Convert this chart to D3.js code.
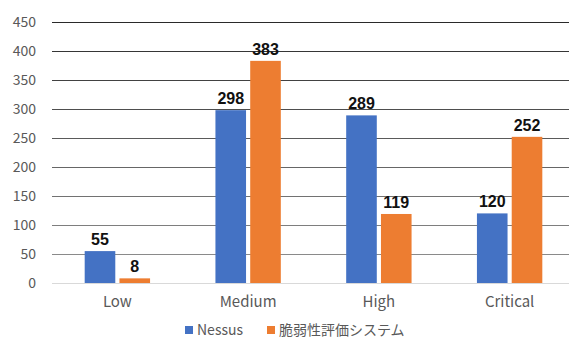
<!DOCTYPE html>
<html>
<head>
<meta charset="utf-8">
<script src="https://cdn.jsdelivr.net/npm/d3@7"></script>
<style>
  html, body { margin: 0; padding: 0; background: #fff; overflow: hidden; }
  svg { display: block; }
</style>
</head>
<body>
<svg id="chart" width="569" height="340"></svg>
<script>
// Vulnerability counts by severity, per scanning tool
const categories = ["Low", "Medium", "High", "Critical"];
const seriesNames = ["Nessus", "脆弱性評価システム"];
const nessusValues = [55, 298, 289, 120];
const systemValues = [8, 383, 119, 252];
const yTicks = [0, 50, 100, 150, 200, 250, 300, 350, 400, 450];
const seriesColors = ["#4472C4", "#ED7D31"];

const svg = d3.select("#chart");
const plotLeft = 52, plotRight = 575, plotTop = 22, plotBottom = 283;
const labelFont = "'Noto Sans CJK JP', 'Liberation Sans', sans-serif";

const x0 = d3.scaleBand().domain(categories).range([plotLeft, plotRight])
  .paddingInner(0.5).paddingOuter(0.25);
const x1 = d3.scaleBand().domain(seriesNames).range([0, x0.bandwidth()])
  .paddingInner(0.12);
const y = d3.scaleLinear().domain([0, 450]).range([plotBottom, plotTop]);

const gridColor = d3.scaleLinear().domain([450, 50]).range(["#2a2a2a", "#8a8a8a"]);

// gridlines
svg.append("g").selectAll("line")
  .data(yTicks.filter(d => d > 0))
  .join("line")
  .attr("x1", plotLeft).attr("x2", plotRight)
  .attr("y1", d => y(d) + 0.5).attr("y2", d => y(d) + 0.5)
  .attr("stroke", d => gridColor(d))
  .attr("stroke-width", 1);

// y axis labels
const yAxis = d3.axisLeft(y).tickValues(yTicks).tickSize(0).tickPadding(0);
const yg = svg.append("g").attr("transform", `translate(36,0)`).call(yAxis);
yg.select(".domain").remove();
yg.selectAll("text")
  .attr("fill", "#595959")
  .style("font-family", labelFont)
  .style("font-size", "14px");

// bars
const rows = categories.map((c, i) => ({ cat: c, vals: [nessusValues[i], systemValues[i]] }));
const groups = svg.append("g").selectAll("g")
  .data(rows).join("g")
  .attr("transform", d => `translate(${x0(d.cat)},0)`);

groups.selectAll("rect")
  .data(d => d.vals.map((v, j) => ({ name: seriesNames[j], v, j })))
  .join("rect")
  .attr("x", d => x1(d.name))
  .attr("width", x1.bandwidth())
  .attr("y", d => y(d.v))
  .attr("height", d => y(0) - y(d.v))
  .attr("fill", d => seriesColors[d.j]);

groups.selectAll("text")
  .data(d => d.vals.map((v, j) => ({ name: seriesNames[j], v, j })))
  .join("text")
  .attr("x", d => x1(d.name) + x1.bandwidth() / 2)
  .attr("y", d => y(d.v) - 6)
  .attr("text-anchor", "middle")
  .attr("fill", "#111")
  .style("font-family", "'Liberation Sans', Arial, sans-serif")
  .style("font-weight", "bold")
  .style("font-size", "16px")
  .text(d => d.v);

// baseline
svg.append("line")
  .attr("x1", plotLeft).attr("x2", plotRight)
  .attr("y1", plotBottom + 0.5).attr("y2", plotBottom + 0.5)
  .attr("stroke", "#d9d9d9");

// x axis labels
const xAxis = d3.axisBottom(x0).tickSize(0).tickPadding(0);
const xg = svg.append("g").attr("transform", `translate(0,${plotBottom + 10})`).call(xAxis);
xg.select(".domain").remove();
xg.selectAll("text")
  .attr("dy", "0")
  .attr("y", 14)
  .attr("fill", "#595959")
  .style("font-family", labelFont)
  .style("font-size", "15px");

// legend
const legend = svg.append("g");
const legendX = [185, 267];
seriesNames.forEach((name, i) => {
  legend.append("rect")
    .attr("x", legendX[i]).attr("y", 326)
    .attr("width", 8).attr("height", 8)
    .attr("fill", seriesColors[i]);
  legend.append("text")
    .attr("x", legendX[i] + 12).attr("y", 335)
    .attr("fill", "#595959")
    .style("font-family", labelFont)
    .style("font-size", "14px")
    .text(name);
});
</script>
</body>
</html>
